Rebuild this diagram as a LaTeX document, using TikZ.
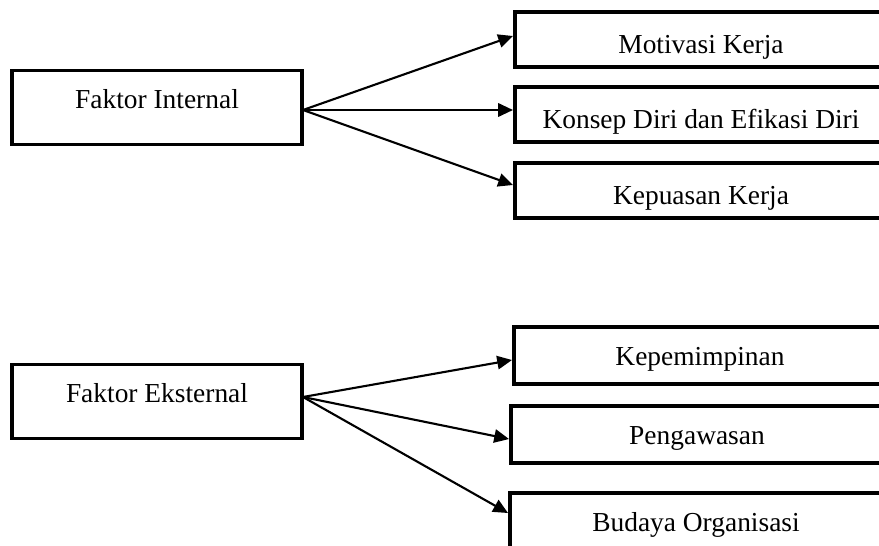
\documentclass[tikz,border=0pt]{standalone}
\usepackage{fontspec}
\setmainfont{Liberation Serif}
\usetikzlibrary{arrows.meta, calc}

\tikzset{
	faktor/.style={draw, line width=2.8pt, inner sep=0pt, minimum width=7.25cm, minimum height=1.85cm,
		text height=0.3cm, text depth=0.25cm, font=\fontsize{19.5pt}{23pt}\selectfont},
	kotak/.style={draw, line width=2.8pt, inner sep=0pt, minimum width=9.3cm, minimum height=1.375cm,
		text height=0.7cm, text depth=0cm, font=\fontsize{19.5pt}{23pt}\selectfont},
	panah/.style={line width=1.5pt, -{Triangle[length=10.5pt, width=9.5pt]}}
}

\begin{document}
\begin{tikzpicture}[x=0.025cm, y=-0.025cm]
				\useasboundingbox (0,0) rectangle (879,545);
				\clip (0,0) rectangle (879,545);
				
				\node[faktor] (intern) at (157,107.5) {Faktor Internal};
				\node[kotak] (motivasi) at (701,39.5) {Motivasi Kerja};
				\node[kotak] (konsep) at (701,114.5) {Konsep Diri dan Efikasi Diri};
				\node[kotak] (kepuasan) at (701,190.5) {Kepuasan Kerja};
				
				\node[faktor] (extern) at (157,401.5) {Faktor Eksternal};
				\node[kotak, minimum height=1.425cm, text height=0.5cm] (pimpin) at (700,355.5) {Kepemimpinan};
				\node[kotak, minimum height=1.425cm, text height=0.5cm] (awas) at (697,434.5) {Pengawasan};
				\node[kotak, minimum height=1.425cm, text height=0.5cm] (budaya) at (696,521.5) {Budaya Organisasi};
				
				\coordinate (iout) at (303,110);
				\coordinate (eout) at (303,397);
				
				\draw[panah] (iout) -- ($(motivasi.west)+(0,-3.5)$);
				\draw[panah] (iout) -- ($(konsep.west)+(0,-4.5)$);
				\draw[panah] (iout) -- ($(kepuasan.west)+(0,-5.5)$);
				
				\draw[panah] (eout) -- ($(pimpin.west)+(0,4.5)$);
				\draw[panah] (eout) -- ($(awas.west)+(0,4.5)$);
				\draw[panah] (eout) -- ($(budaya.west)+(0,-8.5)$);
\end{tikzpicture}
\end{document}
